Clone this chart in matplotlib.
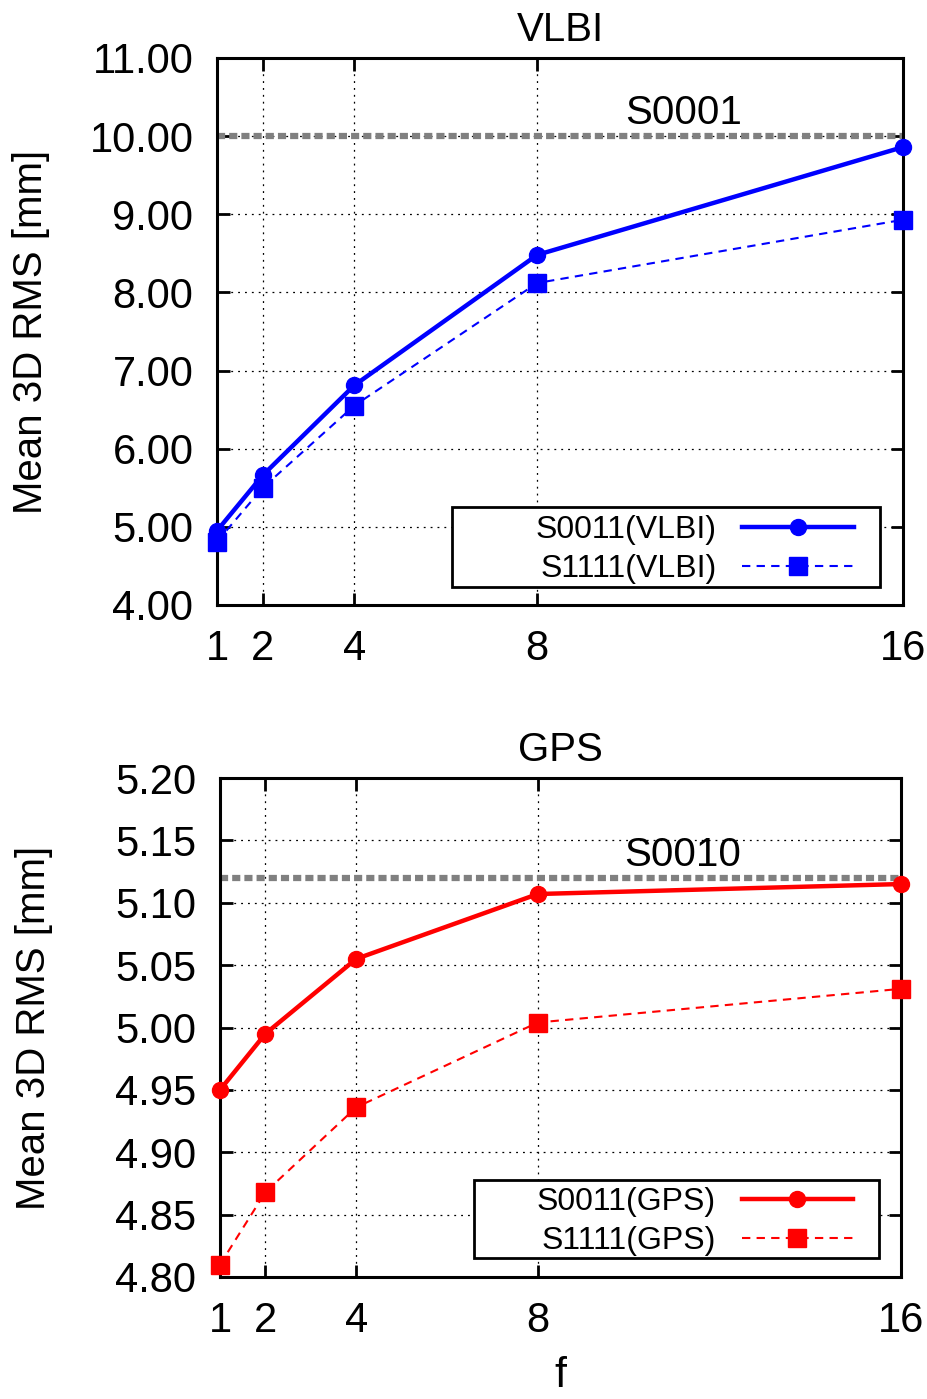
import numpy as np
import matplotlib.pyplot as plt
from matplotlib.patches import Rectangle

plt.rcParams['font.family'] = ['Liberation Sans', 'DejaVu Sans']

f = [1, 2, 4, 8, 16]

vlbi_s0011 = [4.95, 5.66, 6.81, 8.48, 9.86]
vlbi_s1111 = [4.81, 5.50, 6.55, 8.12, 8.93]
vlbi_ref = 10.0

gps_s0011 = [4.950, 4.995, 5.055, 5.107, 5.115]
gps_s1111 = [4.810, 4.868, 4.936, 5.004, 5.031]
gps_ref = 5.12

W, H = 927, 1399
fig = plt.figure(figsize=(W / 100, H / 100), dpi=100)


def make_axes(l, r, t, b):
    return fig.add_axes([l / W, 1 - b / H, (r - l) / W, (b - t) / H])


def style(ax, yticks, fmt):
    ax.set_xlim(1, 16)
    ax.set_xticks(f)
    ax.set_yticks(yticks)
    ax.set_ylim(yticks[0], yticks[-1])
    ax.set_yticklabels([fmt % v for v in yticks])
    ax.tick_params(direction='in', length=9, width=2, labelsize=30,
                   top=True, right=True, pad=17)
    ax.tick_params(axis='x', pad=17)
    ax.grid(True, color='black', linestyle=(0, (1.5, 4)), linewidth=0.9)
    for s in ax.spines.values():
        s.set_linewidth(2.2)
    ax.set_ylabel('Mean 3D RMS [mm]', fontsize=29)
    ax.yaxis.set_label_coords(-167 / (ax.get_position().width * W), 0.5)


def add_legend(ax, box):
    # box = (x0, y0, x1, y1) in axes fraction, drawn like a gnuplot key
    x0, y0, x1, y1 = box
    ax.add_patch(Rectangle((x0, y0), x1 - x0, y1 - y0, transform=ax.transAxes,
                           facecolor='white', edgecolor='black', lw=2,
                           zorder=5))
    leg = ax.legend(loc='center right',
                    bbox_to_anchor=(x1 - 0.037, (y0 + y1) / 2 - 0.005),
                    fontsize=23, markerfirst=False, handlelength=3.5,
                    frameon=False, borderpad=0, labelspacing=0.28,
                    handletextpad=0.8, borderaxespad=0)
    leg.set_zorder(6)
    return leg


dash_ref = (0, (1.3, 0.65))

# VLBI
ax1 = make_axes(217, 903, 58, 605)
ax1.axhline(vlbi_ref, color='#808080', lw=4.5, linestyle=dash_ref, zorder=2)
ax1.plot(f, vlbi_s0011, color='blue', lw=3.2, marker='o', ms=11.5,
         label='S0011(VLBI)', clip_on=False, zorder=4)
ax1.plot(f, vlbi_s1111, color='blue', lw=1.5, ls=(0, (4, 3)), marker='s', ms=13,
         label='S1111(VLBI)', clip_on=False, zorder=3)
style(ax1, [4, 5, 6, 7, 8, 9, 10, 11], '%.2f')
ax1.set_title('VLBI', fontsize=29, pad=12)
ax1.text(11.2, 10.3, 'S0001', fontsize=29, ha='center', va='center')
add_legend(ax1, (0.343, 0.033, 0.966, 0.179))

# GPS
ax2 = make_axes(220, 901, 778, 1277)
ax2.axhline(gps_ref, color='#808080', lw=4.5, linestyle=dash_ref, zorder=2)
ax2.plot(f, gps_s0011, color='red', lw=3.2, marker='o', ms=11.5,
         label='S0011(GPS)', clip_on=False, zorder=4)
ax2.plot(f, gps_s1111, color='red', lw=1.5, ls=(0, (4, 3)), marker='s', ms=13,
         label='S1111(GPS)', clip_on=False, zorder=3)
style(ax2, list(np.round(np.arange(4.80, 5.201, 0.05), 2)), '%.2f')
ax2.set_title('GPS', fontsize=29, pad=12)
ax2.text(11.2, 5.138, 'S0010', fontsize=29, ha='center', va='center')
ax2.set_xlabel('f', fontsize=31, labelpad=11)
add_legend(ax2, (0.373, 0.038, 0.967, 0.194))

fig.savefig('out.png', dpi=100)
